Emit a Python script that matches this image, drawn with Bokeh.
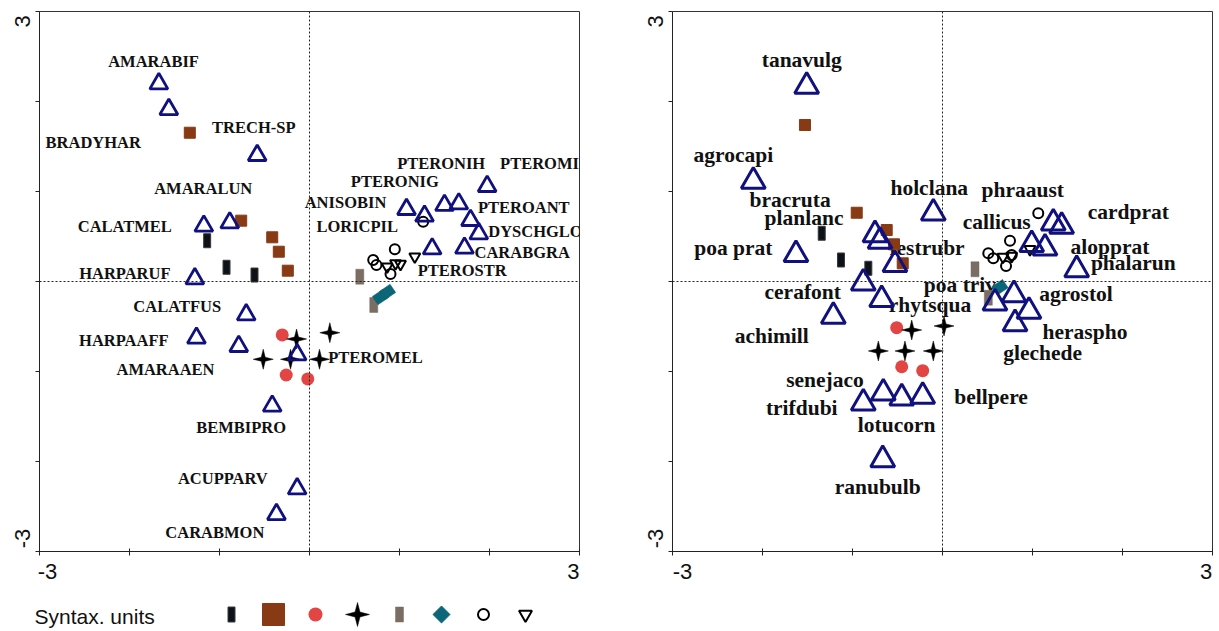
import math
from bokeh.plotting import figure
from bokeh.models import Range1d, FixedTicker, Span, LinearAxis, CustomJSTickFormatter
from bokeh.layouts import row, column
from bokeh.embed import file_html
from bokeh.resources import INLINE
from bokeh.core.properties import value

# ---------------- colours ----------------
NAVY = "#10107f"
BROWN = "#873a14"
RED = "#e34444"
BLACKR = "#0d1218"
GRAY = "#7a6d63"
TEAL = "#0b6677"

# ---------------- LEFT panel (carabid species) ----------------
L_TRI_X = [-1.674, -1.563, -0.581, -1.174, -0.886, -1.274, -0.703, -1.256, -0.786, -0.137, -0.414,
           -0.137, -0.367, 1.078, 1.278, 1.500, 1.659, 1.974, 1.789, 1.881, 1.363, 1.722]
L_TRI_Y = [2.198, 1.913, 1.402, 0.617, 0.653, 0.031, -0.369, -0.628, -0.720, -0.813, -1.383,
           -2.302, -2.587, 0.802, 0.728, 0.847, 0.864, 1.058, 0.680, 0.531, 0.364, 0.372]
L_LAB = ["AMARABIF", "BRADYHAR", "TRECH-SP", "AMARALUN", "CALATMEL", "HARPARUF", "CALATFUS",
         "HARPAAFF", "AMARAAEN", "BEMBIPRO", "ACUPPARV", "CARABMON", "PTEROMEL", "ANISOBIN",
         "PTERONIG", "LORICPIL", "PTERONIH", "PTEROMIN", "PTEROANT", "DYSCHGLO", "CARABGRA", "PTEROSTR"]
L_LAB_X = [-1.733, -2.403, -0.619, -1.181, -2.052, -2.052, -1.470, -2.063, -1.600, -0.759, -0.963,
           -1.052, 0.733, 0.400, 0.948, 0.530, 1.463, 2.622, 2.381, 2.511, 2.363, 1.697]
L_LAB_Y = [2.439, 1.542, 1.709, 1.036, 0.609, 0.091, -0.280, -0.658, -0.983, -1.624, -2.194,
           -2.787, -0.847, 0.880, 1.109, 0.609, 1.313, 1.313, 0.824, 0.553, 0.320, 0.117]

# samples by syntaxonomic unit
L_U1_X = [-1.137, -0.922, -0.611]            # black rectangles
L_U1_Y = [0.453, 0.158, 0.072]
L_U2_X = [-1.330, -0.759, -0.414, -0.341, -0.241]   # brown squares
L_U2_Y = [1.653, 0.676, 0.491, 0.331, 0.120]
L_U3_X = [-0.303, -0.259, -0.019]            # red dots
L_U3_Y = [-0.594, -1.039, -1.083]
L_U4_X = [-0.144, 0.226, -0.514, -0.211, 0.111]     # stars
L_U4_Y = [-0.639, -0.569, -0.864, -0.864, -0.864]
L_U5_X = [0.559, 0.714]                      # grey rectangles
L_U5_Y = [0.053, -0.261]
L_U6_X = [0.789, 0.867]                      # teal diamonds
L_U6_Y = [-0.172, -0.117]
L_U7_X = [1.263, 0.948, 0.708, 0.744, 0.900]        # open circles
L_U7_Y = [0.664, 0.358, 0.239, 0.183, 0.083]
L_U8_X = [1.170, 0.956, 1.011, 0.863]        # open inverted triangles
L_U8_Y = [0.276, 0.202, 0.194, 0.164]

# ---------------- RIGHT panel (plant species) ----------------
R_TRI_X = [-1.509, -2.102, -1.628, -0.750, -0.694, -0.528, -0.880, -0.676, -0.102, -1.213,
           -0.880, -0.658, -0.453, -0.220, -0.664, 1.231, 1.324, 0.991, 1.139, 1.491,
           0.794, 0.583, 0.961, 0.806]
R_TRI_Y = [2.169, 1.113, 0.298, 0.520, 0.447, 0.187, -0.017, -0.202, 0.761, -0.387,
           -1.350, -1.239, -1.294, -1.276, -1.980, 0.650, 0.613, 0.409, 0.372, 0.131,
           -0.147, -0.239, -0.331, -0.469]
R_LAB = ["tanavulg", "agrocapi", "bracruta", "planlanc", "poa prat", "cerafont", "holclana",
         "festrubr", "poa triv", "rhytsqua", "achimill", "senejaco", "trifdubi", "lotucorn",
         "bellpere", "ranubulb", "phraaust", "callicus", "cardprat", "alopprat", "phalarun",
         "agrostol", "heraspho", "glechede"]
R_LAB_X = [-1.564, -2.324, -1.694, -1.539, -2.324, -1.553, -0.147, -0.172, 0.194, -0.139,
           -1.898, -1.306, -1.564, -0.509, 0.539, -0.720, 0.891, 0.602, 2.064, 1.861, 2.120,
           1.483, 1.583, 1.113]
R_LAB_Y = [2.461, 1.406, 0.906, 0.702, 0.369, -0.113, 1.036, 0.372, -0.039, -0.261,
           -0.606, -1.094, -1.402, -1.594, -1.283, -2.280, 1.017, 0.664, 0.776, 0.387, 0.209,
           -0.139, -0.558, -0.791]

R_U1_X = [-1.342, -1.128, -0.824]
R_U1_Y = [0.536, 0.239, 0.147]
R_U2_X = [-1.528, -0.953, -0.620, -0.539, -0.442]
R_U2_Y = [1.739, 0.764, 0.572, 0.413, 0.202]
R_U3_X = [-0.509, -0.453, -0.220]
R_U3_Y = [-0.513, -0.947, -0.991]
R_U4_X = [-0.342, 0.017, -0.713, -0.417, -0.102]
R_U4_Y = [-0.539, -0.494, -0.772, -0.772, -0.772]
R_U5_X = [0.361, 0.509]
R_U5_Y = [0.136, -0.180]
R_U6_X = [0.639]
R_U6_Y = [-0.064]
R_U7_X = [1.064, 0.750, 0.509, 0.564, 0.706, 0.769]
R_U7_Y = [0.758, 0.453, 0.313, 0.258, 0.172, 0.294]
R_U8_X = [0.972, 0.769, 0.672]
R_U8_Y = [0.358, 0.283, 0.272]

# ---------------- axes / legend ----------------
AX_TICKS = [-3, -2, -1, 0, 1, 2, 3]
# end labels "-3" / "3" sit slightly inside the axis ends, as in the original
L_XLAB_AT = [-2.911, 2.933]
R_XLAB_AT = [-2.889, 2.928]
YLAB_AT = [-2.855, 2.89]

LEGEND_TITLE = "Syntax. units"
LEGEND_IDX = [0, 1, 2, 3, 4, 5, 6, 7]

END_FMT = CustomJSTickFormatter(code="return tick > 0 ? '3' : '-3';")


def star_shapes(xs, ys, R, r):
    """4-point star outlines around each point (R, r in data units)."""
    out_x, out_y = [], []
    for x0, y0 in zip(xs, ys):
        px, py = [], []
        for k in range(8):
            ang = math.pi / 2 + k * math.pi / 4
            rad = R if k % 2 == 0 else r
            px.append(x0 + rad * math.cos(ang))
            py.append(y0 + rad * math.sin(ang))
        out_x.append(px)
        out_y.append(py)
    return out_x, out_y


def end_axis(ticks, standoff, vertical):
    ax = LinearAxis(ticker=FixedTicker(ticks=ticks), formatter=END_FMT,
                    axis_line_color=None, major_tick_line_color=None,
                    minor_tick_line_color=None, major_tick_in=0, major_tick_out=0,
                    major_label_standoff=standoff,
                    major_label_text_font="Liberation Sans",
                    major_label_text_font_size="22px",
                    major_label_text_color="#111111")
    if vertical:
        ax.major_label_orientation = "vertical"
    return ax


def make_panel(width, bl, br, tri, labs, units, lab_size, tri_size, tri_lw, xlab_at):
    p = figure(width=width, height=595, min_border_left=bl, min_border_right=br,
               min_border_top=11, min_border_bottom=44,
               x_range=Range1d(-3, 3), y_range=Range1d(-3, 3),
               output_backend="svg", toolbar_location=None)
    p.grid.visible = False
    p.outline_line_color = "#333333"
    p.outline_line_width = 1
    for ax in (p.xaxis[0], p.yaxis[0]):
        ax.ticker = FixedTicker(ticks=AX_TICKS)
        ax.minor_tick_line_color = None
        ax.axis_line_color = "#222222"
        ax.major_tick_line_color = "#222222"
        ax.major_label_text_font_size = "0px"
        ax.major_label_standoff = 0
        ax.major_label_overrides = {t: "" for t in AX_TICKS}
    p.xaxis.major_tick_in = 3
    p.xaxis.major_tick_out = 4
    p.yaxis.major_tick_in = 0
    p.yaxis.major_tick_out = 4

    p.add_layout(end_axis(xlab_at, 8, False), "below")
    p.add_layout(end_axis(YLAB_AT, 5, True), "left")

    p.add_layout(Span(location=0, dimension="height", line_color="#222222",
                      line_width=1, line_dash="2 2"))
    p.add_layout(Span(location=0, dimension="width", line_color="#222222",
                      line_width=1, line_dash="2 2"))

    lx, ly, lt = labs
    p.text(x=lx, y=ly, text=lt, text_font=value("Liberation Serif"),
           text_font_style="bold", text_font_size=lab_size, text_color="#111111",
           text_align="center", text_baseline="middle")

    (u1x, u1y), (u2x, u2y), (u3x, u3y), (u4x, u4y), (u5x, u5y), (u6x, u6y), (u7x, u7y), (u8x, u8y) = units
    p.rect(u1x, u1y, width=7, height=14, width_units="screen", height_units="screen",
           fill_color=BLACKR, line_color="#3a3a3a", line_width=1)
    p.scatter(u2x, u2y, marker="square", size=11, fill_color=BROWN, line_color=BROWN)
    p.scatter(u3x, u3y, marker="circle", size=13, fill_color=RED, line_color=None)
    sx, sy = star_shapes(u4x, u4y, 10 / 90, 2.8 / 90)
    p.patches(sx, sy, fill_color="black", line_color="black", line_width=0.5)
    p.rect(u5x, u5y, width=8, height=15, width_units="screen", height_units="screen",
           fill_color=GRAY, line_color=GRAY, line_width=0.5)
    p.rect(u6x, u6y, width=13, height=10, angle=0.6, width_units="screen", height_units="screen",
           fill_color=TEAL, line_color=TEAL, line_width=0.5)
    p.scatter(u7x, u7y, marker="circle", size=10, fill_color=None, line_color="black", line_width=2)
    p.scatter(u8x, u8y, marker="inverted_triangle", size=11, fill_color=None,
              line_color="black", line_width=2)

    tx, ty = tri
    p.scatter(tx, ty, marker="triangle", size=tri_size, fill_color=None,
              line_color=NAVY, line_width=tri_lw)
    return p


p1 = make_panel(620, 39, 41, (L_TRI_X, L_TRI_Y), (L_LAB_X, L_LAB_Y, L_LAB),
                [(L_U1_X, L_U1_Y), (L_U2_X, L_U2_Y), (L_U3_X, L_U3_Y), (L_U4_X, L_U4_Y),
                 (L_U5_X, L_U5_Y), (L_U6_X, L_U6_Y), (L_U7_X, L_U7_Y), (L_U8_X, L_U8_Y)],
                "16.5px", 18, 2.8, L_XLAB_AT)
p2 = make_panel(599, 52, 7, (R_TRI_X, R_TRI_Y), (R_LAB_X, R_LAB_Y, R_LAB),
                [(R_U1_X, R_U1_Y), (R_U2_X, R_U2_Y), (R_U3_X, R_U3_Y), (R_U4_X, R_U4_Y),
                 (R_U5_X, R_U5_Y), (R_U6_X, R_U6_Y), (R_U7_X, R_U7_Y), (R_U8_X, R_U8_Y)],
                "21.5px", 24, 3, R_XLAB_AT)

# ---------------- legend strip ----------------
S = 42.0  # px per legend unit
leg = figure(width=620, height=36, min_border=0,
             x_range=Range1d(-231 / S, (620 - 231) / S), y_range=Range1d(-17 / S, 19 / S),
             output_backend="svg", toolbar_location=None)
leg.axis.visible = False
leg.grid.visible = False
leg.outline_line_color = None
ly0 = [0.0]
leg.text(x=[(34 - 231) / S], y=[-1.5 / S], text=[LEGEND_TITLE], text_font=value("Liberation Sans"),
         text_font_size="21px", text_color="#111111", text_align="left", text_baseline="middle")
leg.rect([LEGEND_IDX[0]], ly0, width=7, height=15, width_units="screen", height_units="screen",
         fill_color=BLACKR, line_color="#3a3a3a", line_width=1)
leg.scatter([LEGEND_IDX[1]], ly0, marker="square", size=22, fill_color=BROWN, line_color=BROWN)
leg.scatter([LEGEND_IDX[2]], ly0, marker="circle", size=14, fill_color=RED, line_color=None)
lsx, lsy = star_shapes([LEGEND_IDX[3]], ly0, 12 / S, 3.5 / S)
leg.patches(lsx, lsy, fill_color="black", line_color="black", line_width=0.5)
leg.rect([LEGEND_IDX[4]], ly0, width=8, height=15, width_units="screen", height_units="screen",
         fill_color=GRAY, line_color=GRAY, line_width=0.5)
leg.scatter([LEGEND_IDX[5]], ly0, marker="square", angle=math.pi / 4, size=12,
            fill_color=TEAL, line_color=TEAL)
leg.scatter([LEGEND_IDX[6]], ly0, marker="circle", size=11, fill_color=None,
            line_color="black", line_width=2)
leg.scatter([LEGEND_IDX[7]], ly0, marker="inverted_triangle", size=13, fill_color=None,
            line_color="black", line_width=2)

layout = column(row(p1, p2), leg)
open("out.html", "w").write(file_html(layout, INLINE))
